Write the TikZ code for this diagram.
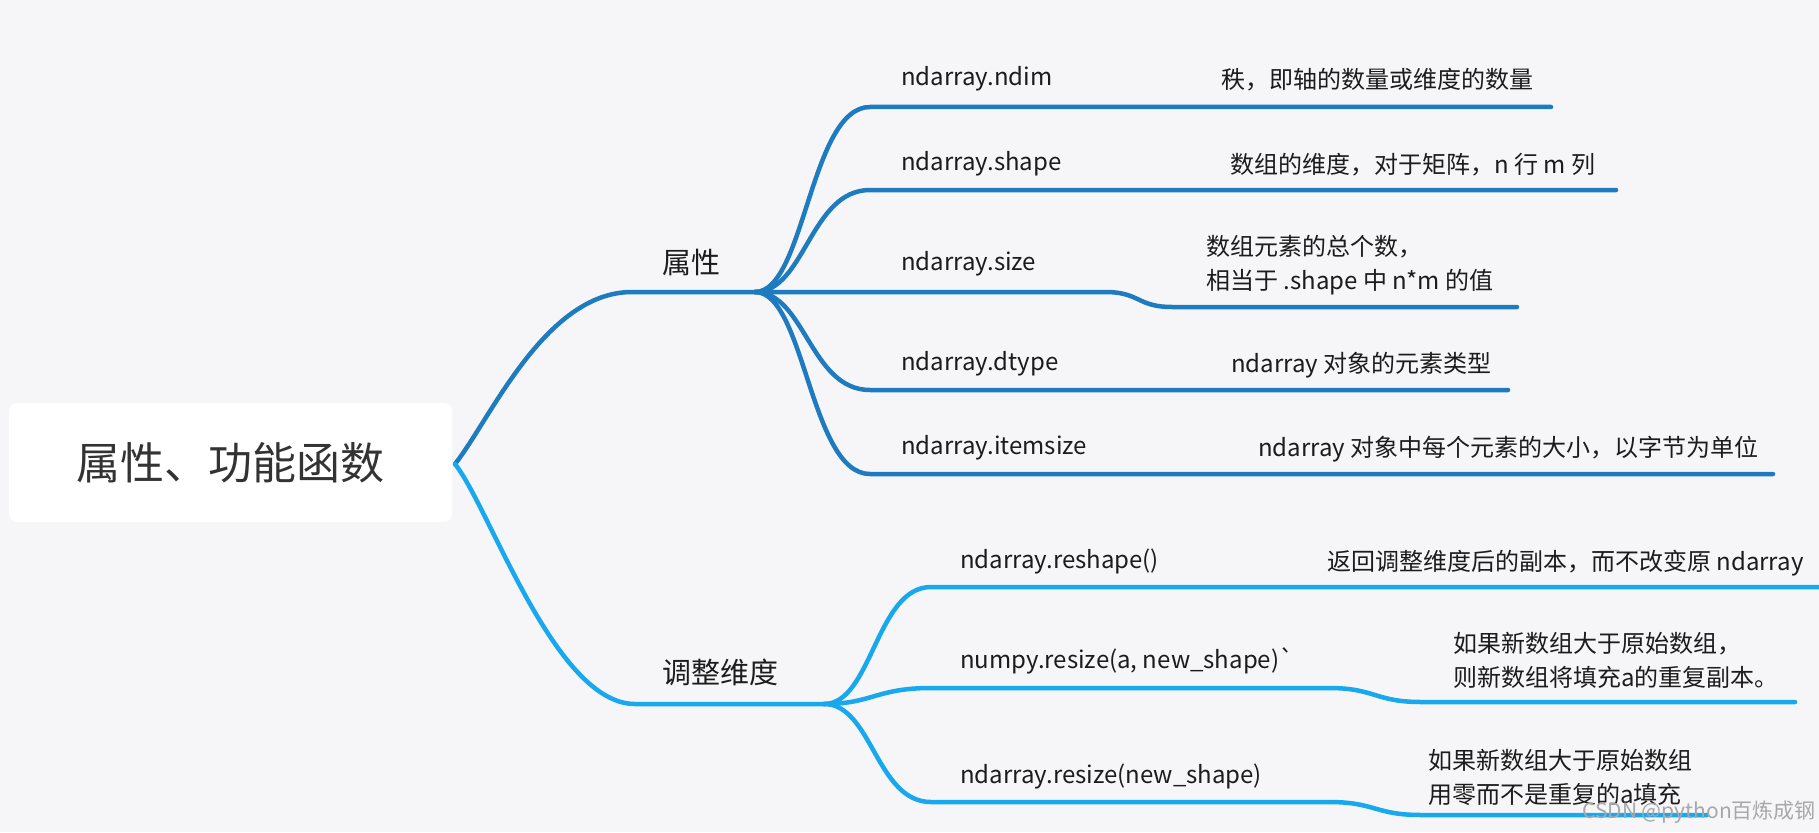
\documentclass[tikz,border=0pt]{standalone}
\usepackage{fontspec}
\setmainfont{Noto Sans CJK SC}[Ligatures=TeXOff]
\definecolor{bgc}{HTML}{F6F6F8}
\definecolor{topc}{HTML}{1E7BC0}
\definecolor{lowc}{HTML}{17A8EE}
\definecolor{txt}{HTML}{1C1C1C}
\definecolor{wm}{HTML}{A8A8A8}
\tikzset{
  brA/.style={draw=topc, line width=4.5pt, line cap=round, line join=round},
  brB/.style={draw=lowc, line width=4.5pt, line cap=round, line join=round},
  lbl/.style={anchor=west, inner sep=0pt, text=txt, text height=0.85em, text depth=0.15em, font=\fontsize{24}{30}\selectfont},
  desc/.style={anchor=west, inner sep=0pt, text=txt, align=left, font=\fontsize{24}{34}\selectfont},
  mainlbl/.style={inner sep=0pt, text=txt, text height=0.85em, text depth=0.15em, font=\fontsize{29}{34}\selectfont},
}
\begin{document}
\begin{tikzpicture}[x=1pt, y=-1pt]
\useasboundingbox (0,0) rectangle (1819,832);
\fill[bgc] (0,0) rectangle (1819,832);
% root
\node[fill=white, rounded corners=8pt, minimum width=443pt, minimum height=119pt, inner sep=0pt,
      text=black!80, font=\fontsize{44}{50}\selectfont] (root) at (230.5,462.5) {属性、功能函数};
\coordinate (O) at (455,464);
% main branches
\coordinate (U1) at (632,292);
\coordinate (HU) at (755,292);
\coordinate (L1) at (635,704);
\coordinate (HL) at (824,704);
\draw[brA] (O) .. controls +(35,-44) and +(-87,0) .. (U1) -- (HU);
\draw[brB] (O) .. controls +(35,44) and +(-80,0) .. (L1) -- (HL);
\node[mainlbl] (attr) at (691,270) {属性};
\node[mainlbl] (adj) at (720,680) {调整维度};
% upper children
\coordinate (a1) at (870,107); \coordinate (a1e) at (1551,107);
\coordinate (a2) at (870,190); \coordinate (a2e) at (1616,190);
\coordinate (a3m) at (1105,292); \coordinate (a3) at (1172,307); \coordinate (a3e) at (1517,307);
\coordinate (a4) at (870,390); \coordinate (a4e) at (1508,390);
\coordinate (a5) at (870,474); \coordinate (a5e) at (1773,474);
\draw[brA] (HU) .. controls +(50,0) and +(-60,0) .. (a1) -- (a1e);
\draw[brA] (HU) .. controls +(50,0) and +(-60,0) .. (a2) -- (a2e);
\draw[brA] (HU) -- (a3m) .. controls +(35,0) and +(-35,0) .. (a3) -- (a3e);
\draw[brA] (HU) .. controls +(50,0) and +(-60,0) .. (a4) -- (a4e);
\draw[brA] (HU) .. controls +(50,0) and +(-60,0) .. (a5) -- (a5e);
\node[lbl] (n1) at (901,82) {ndarray.ndim};
\node[lbl] (n2) at (901,167) {ndarray.shape};
\node[lbl] (n3) at (901,267) {ndarray.size};
\node[lbl] (n4) at (901,367) {ndarray.dtype};
\node[lbl] (n5) at (901,451) {ndarray.itemsize};
\node[desc] (d1) at (1221,80) {秩，即轴的数量或维度的数量};
\node[desc] (d2) at (1230,165) {数组的维度，对于矩阵，n 行 m 列};
\node[desc] (d3) at (1206,265) {数组元素的总个数，\\相当于 .shape 中 n*m 的值};
\node[desc] (d4) at (1231,365) {ndarray 对象的元素类型};
\node[desc] (d5) at (1258,449) {ndarray 对象中每个元素的大小，以字节为单位};
% lower children
\coordinate (b1) at (931,587); \coordinate (b1e) at (1819,587);
\coordinate (b2) at (931,688); \coordinate (b2m) at (1329,688); \coordinate (b2d) at (1421,702); \coordinate (b2e) at (1795,702);
\coordinate (b3) at (931,802); \coordinate (b3m) at (1329,802); \coordinate (b3d) at (1421,815); \coordinate (b3e) at (1707,815);
\draw[brB] (HL) .. controls +(48,0) and +(-55,0) .. (b1) -- (b1e);
\draw[brB] (HL) .. controls +(48,0) and +(-55,0) .. (b2) -- (b2m) .. controls +(46,0) and +(-46,0) .. (b2d) -- (b2e);
\draw[brB] (HL) .. controls +(48,0) and +(-55,0) .. (b3) -- (b3m) .. controls +(46,0) and +(-46,0) .. (b3d) -- (b3e);
\node[lbl] (m1) at (960,565) {ndarray.reshape()};
\node[lbl] (m2) at (960,665) {numpy.resize(a, new\_shape)`};
\node[lbl] (m3) at (960,780) {ndarray.resize(new\_shape)};
\node[desc] (e1) at (1327,563) {返回调整维度后的副本，而不改变原 ndarray};
\node[desc] (e2) at (1453,660) {如果新数组大于原始数组，\\则新数组将填充a的重复副本。};
\node[desc] (e3) at (1428,777) {如果新数组大于原始数组\\用零而不是重复的a填充};
% watermark
\node[inner sep=0pt, text=wm, font=\fontsize{21}{24}\selectfont] (wmk) at (1699,812) {CSDN @python百炼成钢};
\end{tikzpicture}
\end{document}
